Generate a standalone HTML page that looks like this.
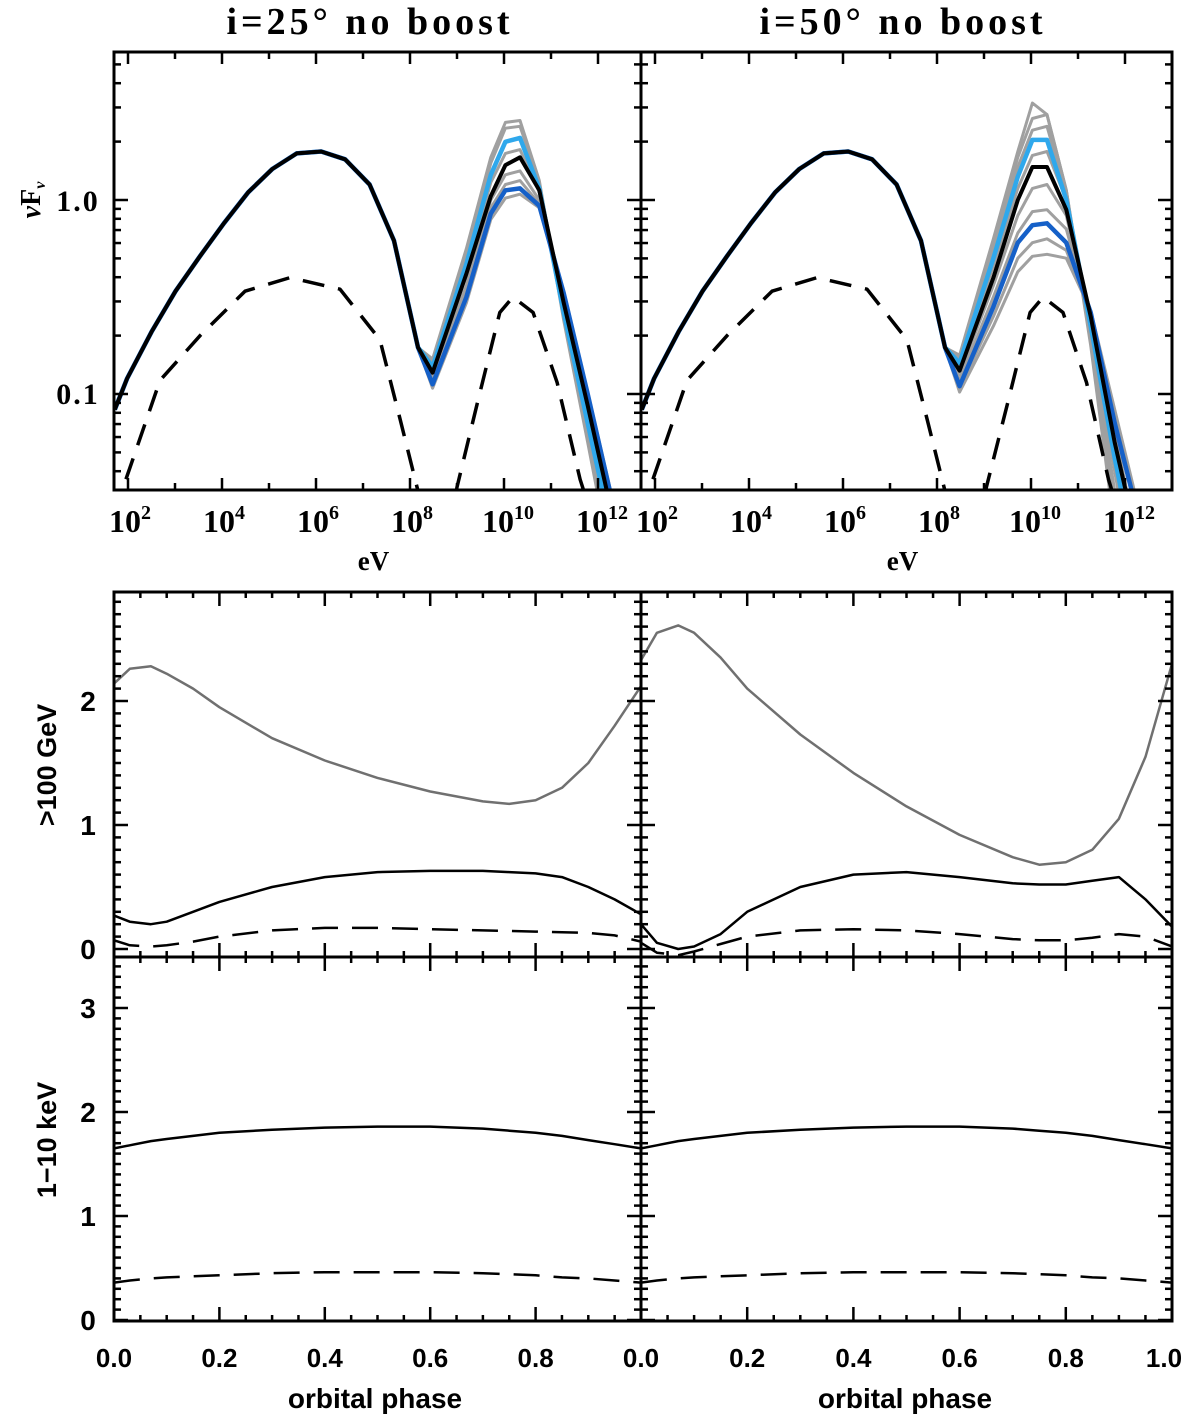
<!DOCTYPE html>
<html><head><meta charset="utf-8"><style>
html,body{margin:0;padding:0;background:#fff;}
svg{display:block;}
.ser{font-family:"Liberation Serif",serif;font-weight:bold;}
.san{font-family:"Liberation Sans",sans-serif;font-weight:bold;}
</style></head><body>
<svg id="fig" width="1200" height="1418" viewBox="0 0 1200 1418" xmlns="http://www.w3.org/2000/svg"></svg>
<script>
// ---------- spectral data (log10 E, log10 nuFnu) ----------
const hump1E = [1.72,1.98,2.50,3.01,3.53,4.04,4.56,5.07,5.59,6.11,6.62,7.14,7.66,8.17];
const hump1Y = [-1.08,-0.92,-0.68,-0.47,-0.29,-0.12,0.04,0.16,0.24,0.25,0.21,0.08,-0.21,-0.76];
const hump2E = [8.17,8.48,9.2,9.72,10.03,10.34,10.75,11.27,11.78,12.3,12.81];
const leftBlack = [-0.76,-0.89,-0.38,0.02,0.18,0.22,0.05,-0.53,-1.06,-1.62,-2.2];
const leftLight = [-0.76,-0.86,-0.33,0.13,0.30,0.32,0.06,-0.58,-1.15,-1.72,-2.3];
const leftDark  = [-0.76,-0.95,-0.50,-0.07,0.05,0.06,-0.03,-0.48,-1.0,-1.55,-2.1];
const leftGray1 = [-0.76,-0.82,-0.25,0.22,0.40,0.41,0.10,-0.62,-1.25,-1.9,-2.5];
const leftGray2 = [-0.76,-0.84,-0.28,0.19,0.37,0.38,0.09,-0.60,-1.2,-1.85,-2.5];
const leftGray3 = [-0.76,-0.88,-0.37,0.09,0.24,0.26,0.04,-0.55,-1.1,-1.68,-2.3];
const leftGray4 = [-0.76,-0.91,-0.44,0.0,0.13,0.15,0.0,-0.51,-1.04,-1.6,-2.2];
const leftGray5 = [-0.76,-0.93,-0.47,-0.04,0.08,0.10,-0.02,-0.50,-1.02,-1.57,-2.15];
const leftGray6 = [-0.76,-0.97,-0.53,-0.10,0.01,0.03,-0.04,-0.47,-0.99,-1.53,-2.1];
const rightBlack = [-0.76,-0.88,-0.40,0.0,0.17,0.17,-0.05,-0.60,-1.25,-1.8,-2.4];
const rightLight = [-0.76,-0.84,-0.30,0.12,0.31,0.31,0.0,-0.65,-1.33,-1.95,-2.6];
const rightDark  = [-0.76,-0.96,-0.55,-0.22,-0.13,-0.12,-0.22,-0.58,-1.15,-1.65,-2.2];
const rightGray1 = [-0.76,-0.80,-0.20,0.25,0.50,0.44,0.05,-0.75,-1.7,-2.6,-3.5];
const rightGray2 = [-0.76,-0.81,-0.23,0.22,0.42,0.44,0.05,-0.72,-1.6,-2.5,-3.4];
const rightGray3 = [-0.76,-0.83,-0.27,0.17,0.36,0.38,0.03,-0.70,-1.5,-2.3,-3.2];
const rightGray4 = [-0.76,-0.86,-0.34,0.06,0.23,0.25,0.0,-0.66,-1.4,-2.1,-2.9];
const rightGray5 = [-0.76,-0.90,-0.44,-0.08,0.06,0.08,-0.08,-0.62,-1.3,-1.95,-2.6];
const rightGray6 = [-0.76,-0.93,-0.50,-0.17,-0.06,-0.05,-0.15,-0.60,-1.2,-1.8,-2.4];
const rightGray7 = [-0.76,-0.97,-0.60,-0.30,-0.22,-0.20,-0.26,-0.58,-1.1,-1.65,-2.2];
const rightGray8 = [-0.76,-0.99,-0.65,-0.37,-0.29,-0.28,-0.30,-0.57,-1.08,-1.6,-2.15];
const dash1E = [1.6,1.87,2.68,3.53,4.49,5.45,6.51,7.36,7.79,8.17,8.3];
const dash1Y = [-1.8,-1.5,-0.93,-0.70,-0.47,-0.40,-0.46,-0.72,-1.13,-1.5,-1.7];
const dash2E = [8.85,9.0,9.43,9.91,10.19,10.62,11.13,11.62,11.83];
const dash2Y = [-1.7,-1.48,-1.05,-0.58,-0.50,-0.58,-0.94,-1.44,-1.6];
const dash2ER = [8.9,9.05,9.5,9.98,10.26,10.68,11.18,11.65,11.85];

// ---------- phase data ----------
const phase = [0,0.03,0.07,0.1,0.15,0.2,0.3,0.4,0.5,0.6,0.7,0.75,0.8,0.85,0.9,0.95,1.0];
const tevGrayL  = [2.14,2.26,2.28,2.22,2.1,1.95,1.7,1.52,1.38,1.27,1.19,1.17,1.2,1.3,1.5,1.8,2.12];
const tevBlackL = [0.27,0.22,0.2,0.22,0.3,0.38,0.5,0.58,0.62,0.63,0.63,0.62,0.61,0.58,0.5,0.4,0.28];
const tevDashL  = [0.07,0.03,0.02,0.03,0.06,0.1,0.15,0.17,0.17,0.16,0.15,0.145,0.14,0.135,0.13,0.11,0.06];
const tevGrayR  = [2.33,2.55,2.61,2.55,2.35,2.1,1.73,1.42,1.15,0.92,0.74,0.68,0.7,0.8,1.05,1.55,2.3];
const tevBlackR = [0.2,0.05,0.0,0.02,0.12,0.3,0.5,0.6,0.62,0.58,0.53,0.52,0.52,0.55,0.58,0.4,0.18];
const tevDashR  = [0.05,-0.03,-0.05,-0.02,0.04,0.1,0.15,0.16,0.15,0.12,0.08,0.07,0.07,0.09,0.12,0.1,0.02];
const xraySolid = [1.65,1.68,1.72,1.74,1.77,1.8,1.83,1.85,1.86,1.86,1.84,1.82,1.8,1.77,1.73,1.69,1.65];
const xrayDash  = [0.36,0.38,0.4,0.41,0.42,0.43,0.45,0.46,0.46,0.46,0.45,0.44,0.43,0.41,0.4,0.38,0.36];

const NS="http://www.w3.org/2000/svg";
const svg=document.getElementById('fig');
function mk(tag,attrs,parent){const e=document.createElementNS(NS,tag);for(const k in attrs)e.setAttribute(k,attrs[k]);(parent||svg).appendChild(e);return e;}

const panels={
 sl:{x0:114,x1:641,y0:52,y1:490},
 sr:{x0:641,x1:1172,y0:52,y1:490},
 ml:{x0:114,x1:641,y0:592,y1:957},
 mr:{x0:641,x1:1172,y0:592,y1:957},
 bl:{x0:114,x1:641,y0:957,y1:1321},
 br:{x0:641,x1:1172,y0:957,y1:1321}
};
function xLog(p,L){return p.x0+14+(L-2)*47;}
function yLog(v){return 200-v*194;}
function xPh(p,f){return p.x0+f*(p.x1-p.x0);}
function yMid(v){return 949-v*124;}
function yBot(v){return 1320-v*104;}

function clip(id,p){const cp=mk('clipPath',{id:id});mk('rect',{x:p.x0,y:p.y0,width:p.x1-p.x0,height:p.y1-p.y0},cp);}
for(const k in panels)clip('c'+k,panels[k]);

function line(xs,ys,fx,fy,style,name,cid){
  const d=xs.map((x,i)=>(i?'L':'M')+fx(x).toFixed(1)+','+fy(ys[i]).toFixed(1)).join(' ');
  const el=mk('path',Object.assign({d:d,fill:'none','clip-path':'url(#'+cid+')','stroke-linejoin':'round'},style));
  
  
  return el;
}

function spectrum(p,cid,grays,light,dark,black,d2E,side){
  const fx=L=>xLog(p,L);
  const full=arr=>hump1Y.concat(arr.slice(1));
  const fullE=hump1E.concat(hump2E.slice(1));
  grays.forEach((g,i)=>line(fullE,full(g),fx,yLog,{stroke:'#a0a0a0','stroke-width':3},side+'-gray-spectrum-'+(i+1),cid));
  line(fullE,full(light),fx,yLog,{stroke:'#2fa8ec','stroke-width':4.5},side+'-lightblue-spectrum',cid);
  line(fullE,full(dark),fx,yLog,{stroke:'#1560c8','stroke-width':4.5},side+'-darkblue-spectrum',cid);
  line(fullE,full(black),fx,yLog,{stroke:'#000','stroke-width':4},side+'-black-spectrum',cid);
  line(dash1E,dash1Y,fx,yLog,{stroke:'#000','stroke-width':3.5,'stroke-dasharray':'22 14'},side+'-dashed-synchrotron',cid);
  line(d2E,dash2Y,fx,yLog,{stroke:'#000','stroke-width':3.5,'stroke-dasharray':'22 14'},side+'-dashed-ic',cid);
}
spectrum(panels.sl,'csl',[leftGray1,leftGray2,leftGray3,leftGray4,leftGray5,leftGray6],leftLight,leftDark,leftBlack,dash2E,'left');
spectrum(panels.sr,'csr',[rightGray1,rightGray2,rightGray3,rightGray4,rightGray5,rightGray6,rightGray7,rightGray8],rightLight,rightDark,rightBlack,dash2ER,'right');

function ph(p,cid,arr,fy,style,name){line(phase,arr,f=>xPh(p,f),fy,style,name,cid);}
const dashS={stroke:'#000','stroke-width':2.5,'stroke-dasharray':'26 14'};
ph(panels.ml,'cml',tevGrayL,yMid,{stroke:'#707070','stroke-width':2.5},'left-tev-gray');
ph(panels.ml,'cml',tevBlackL,yMid,{stroke:'#000','stroke-width':2.5},'left-tev-black');
ph(panels.ml,'cml',tevDashL,yMid,dashS,'left-tev-dashed');
ph(panels.mr,'cmr',tevGrayR,yMid,{stroke:'#707070','stroke-width':2.5},'right-tev-gray');
ph(panels.mr,'cmr',tevBlackR,yMid,{stroke:'#000','stroke-width':2.5},'right-tev-black');
ph(panels.mr,'cmr',tevDashR,yMid,dashS,'right-tev-dashed');
ph(panels.bl,'cbl',xraySolid,yBot,{stroke:'#000','stroke-width':2.5},'left-xray-solid');
ph(panels.bl,'cbl',xrayDash,yBot,dashS,'left-xray-dashed');
ph(panels.br,'cbr',xraySolid,yBot,{stroke:'#000','stroke-width':2.5},'right-xray-solid');
ph(panels.br,'cbr',xrayDash,yBot,dashS,'right-xray-dashed');

function tk(x1,y1,x2,y2){mk('line',{x1:x1,y1:y1,x2:x2,y2:y2,stroke:'#000','stroke-width':2.5});}
for(const k in panels){const p=panels[k];
  const r=mk('rect',{x:p.x0,y:p.y0,width:p.x1-p.x0,height:p.y1-p.y0,fill:'none',stroke:'#000','stroke-width':3});
  
  
}
['sl','sr'].forEach(k=>{const p=panels[k];
  for(let L=2;L<=12;L++){const x=xLog(p,L);const len=L%2==0?12:7;tk(x,p.y1,x,p.y1-len);tk(x,p.y0,x,p.y0+len);}
  for(let d=-2;d<=0;d++)for(let m=1;m<=9;m++){const v=Math.log10(m)+d;const y=yLog(v);if(y<p.y0||y>p.y1)continue;const len=m==1?14:7;tk(p.x0,y,p.x0+len,y);tk(p.x1,y,p.x1-len,y);}
});
['ml','mr','bl','br'].forEach(k=>{const p=panels[k];const fy=k[0]=='m'?yMid:yBot;
  for(let i=0;i<=20;i++){const x=xPh(p,i/20);const len=i%4==0?14:6;tk(x,p.y1,x,p.y1-len);tk(x,p.y0,x,p.y0+len);}
  for(let i=0;i<=35;i++){const y=fy(i/10);if(y<p.y0+1||y>p.y1-1)continue;const len=i%10==0?14:7;tk(p.x0,y,p.x0+len,y);tk(p.x1,y,p.x1-len,y);}
});

function txt(x,y,s,cls,size,name,extra){const t=mk('text',Object.assign({x:x,y:y,'class':cls,'font-size':size,'text-anchor':'middle'},extra||{}));t.innerHTML=s;
  
  return t;}
txt(370,34,'i=25° no boost','ser',38,'left-title',{'font-weight':'normal','letter-spacing':'4'});
txt(903,34,'i=50° no boost','ser',38,'right-title',{'font-weight':'normal','letter-spacing':'4'});
txt(78,211,'1.0','ser',30,'ytick-1.0',{'font-weight':'normal','letter-spacing':'2'});
txt(78,404,'0.1','ser',30,'ytick-0.1',{'font-weight':'normal','letter-spacing':'2'});
const expLabels=['2','4','6','8','10','12'];
['sl','sr'].forEach(k=>{const p=panels[k];
  expLabels.forEach((e,i)=>{const x=xLog(p,2+i*2);txt(x+(e.length>1?4:2),532,'10<tspan dy="-13" font-size="20">'+e+'</tspan>','ser',32,k+'-xtick-1e'+e,{'font-weight':'normal'});});
  txt((p.x0+p.x1)/2-4,570,'eV','ser',27,k+'-xaxis-title');
});
txt(30,210,'<tspan font-style="italic">ν</tspan>F<tspan font-size="16" dy="5" font-style="italic">ν</tspan>','ser',28,'y-axis-title-nuFnu',{transform:'rotate(-90 30 200)'});
const midTicks=['0','1','2'];
midTicks.forEach((s,i)=>txt(88,yMid(i)+10,s,'san',28,'mid-ytick-'+s));
const botTicks=['0','1','2','3'];
botTicks.forEach((s,i)=>txt(88,yBot(i)+10,s,'san',28,'bot-ytick-'+s));
txt(46,775,'&gt;100 GeV','san',27,'y-axis-title-tev',{transform:'rotate(-90 46 765)'});
txt(46,1150,'1−10 keV','san',27,'y-axis-title-xray',{transform:'rotate(-90 46 1140)'});
const phLabels=['0.0','0.2','0.4','0.6','0.8','1.0'];
phLabels.forEach((s,i)=>{if(i<5)txt(xPh(panels.bl,i*0.2),1367,s,'san',26,'left-phase-tick-'+s);txt(xPh(panels.br,i*0.2)-(i==5?8:0),1367,s,'san',26,'right-phase-tick-'+s);});
txt(375,1408,'orbital phase','san',28,'left-xaxis-title');
txt(905,1408,'orbital phase','san',28,'right-xaxis-title');
</script>
</body></html>
